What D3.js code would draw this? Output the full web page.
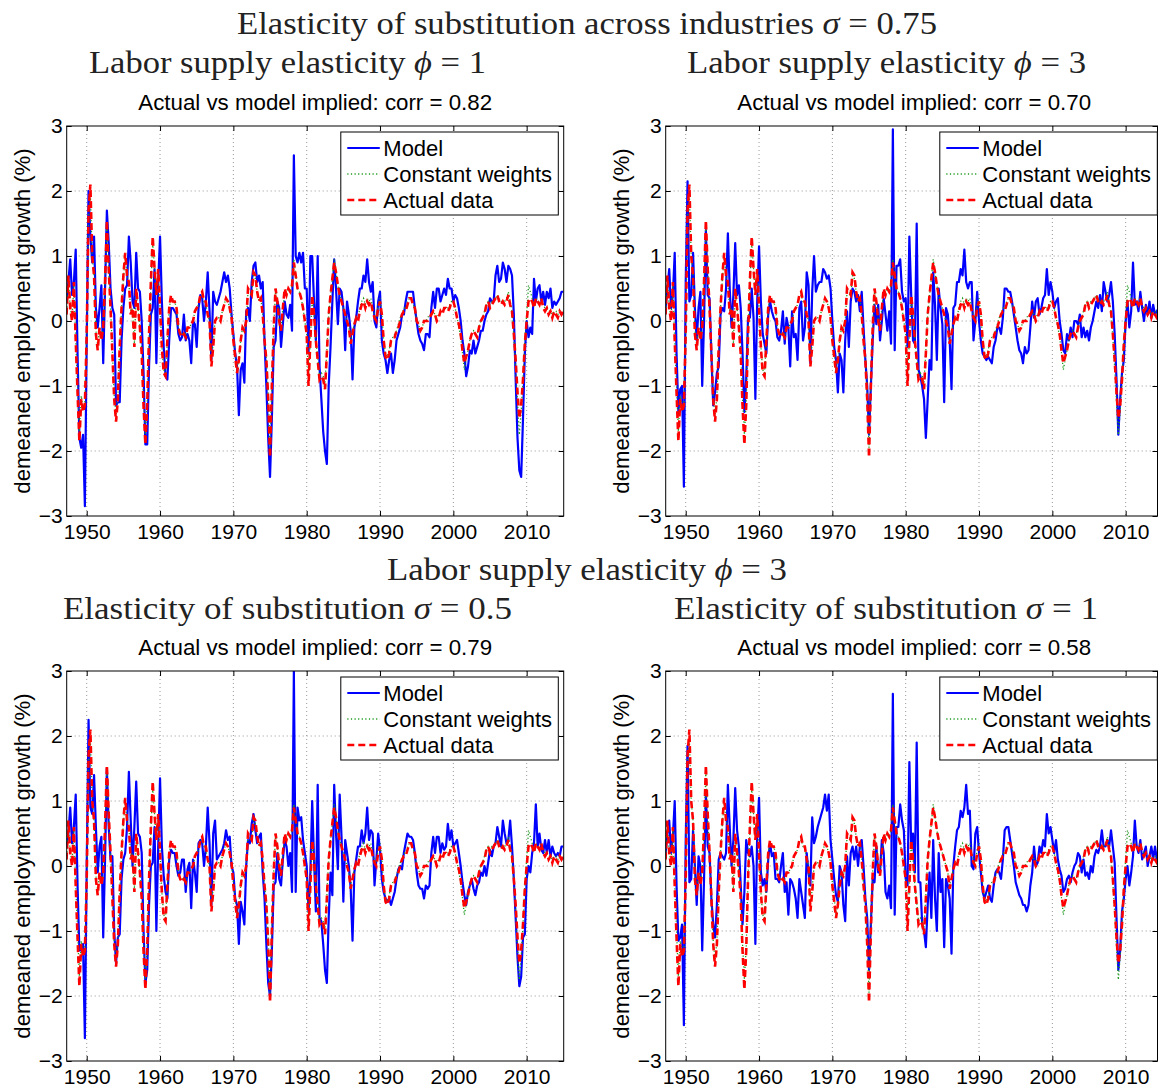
<!DOCTYPE html>
<html>

<head>
    <meta charset="utf-8">
    <script src="https://cdnjs.cloudflare.com/ajax/libs/d3/7.8.5/d3.min.js"></script>
    <style>
        body {
            margin: 0;
            background: #fff;
        }

        .grid line {
            stroke: #8c8c8c;
            stroke-width: 0.9;
            stroke-dasharray: 1 3;
        }

        .model {
            fill: none;
            stroke: #0000ff;
            stroke-width: 2.2;
            stroke-linejoin: round;
        }

        .cw {
            fill: none;
            stroke: #1e9a1e;
            stroke-width: 1.3;
            stroke-dasharray: 1.2 2.4;
        }

        .actual {
            fill: none;
            stroke: #ff0000;
            stroke-width: 2.6;
            stroke-dasharray: 7 4;
        }

        .axis text {
            font-family: "Liberation Sans", Arial, Helvetica, sans-serif;
            font-size: 21px;
            fill: #000;
        }

        .axis line {
            stroke: #000;
        }

        .sans {
            font-family: "Liberation Sans", Arial, Helvetica, sans-serif;
            fill: #000;
        }

        .serif {
            font-family: "Liberation Serif", "Times New Roman", serif;
            font-size: 32px;
            fill: #222;
        }
    </style>
</head>

<body>
    <svg id="chart" width="1158" height="1088"></svg>

    <script>
        // quarterly series, first point 1947Q2
        var firstQuarter = 1947.25;

        var xTicks = [1950, 1960, 1970, 1980, 1990, 2000, 2010];
        var yTicks = [-3, -2, -1, 0, 1, 2, 3];
        var seriesNames = ["Model", "Constant weights", "Actual data"];
        var corrValues = ["0.82", "0.70", "0.79", "0.58"];

        var actualData = [
            0.1, 0.7, 0.2,
            0.0, 0.6, -0.3, -1.1, -1.85, -1.2, -1.4, -1.3, // 48-49
            -0.2, 1.7, 2.1, 1.0, 0.7, -0.2, -0.45, -0.1, // 50-51
            -0.3, -0.1, 0.6, 1.55, 0.8, 0.2, -0.5, -1.2, // 52-53
            -1.55, -1.2, -0.4, 0.2, 0.7, 1.05, 0.7, 0.6, // 54-55
            0.1, 0.2, -0.4, 0.5, 0.2, -0.1, -0.5, -1.3, // 56-57
            -1.9, -1.3, -0.2, 0.6, 1.3, 0.8, 0.4, 0.8, // 58-59
            0.2, -0.4, -0.8, -0.85, -0.3, 0.2, 0.4, 0.3, // 60-61
            0.3, 0.2, -0.1, -0.2, -0.25, -0.2, -0.25, -0.1, // 62-63
            -0.1, -0.05, 0.0, 0.15, 0.2, 0.25, 0.4, 0.45, // 64-65
            0.3, 0.3, 0.1, 0.0, -0.7, -0.4, 0.0, 0.05, // 66-67
            0.05, 0.0, 0.15, 0.25, 0.35, 0.3, 0.2, 0.05, // 68-69
            -0.3, -0.55, -0.8, -0.6, -0.3, -0.1, -0.15, 0.0, // 70-71
            0.5, 0.45, 0.4, 0.75, 0.7, 0.45, 0.3, 0.35, // 72-73
            0.1, -0.3, -0.6, -1.2, -2.1, -1.0, -0.1, 0.5, // 74-75
            0.3, 0.0, -0.15, 0.2, 0.5, 0.4, 0.5, 0.45, // 76-77
            0.55, 0.9, 0.7, 0.5, 0.45, 0.35, 0.2, 0.0, // 78-79
            -0.2, -1.0, -0.3, 0.4, 0.1, -0.3, -0.6, -0.9, // 80-81
            -0.85, -0.9, -1.05, -0.5, 0.1, 0.4, 0.65, 0.9, // 82-83
            0.75, 0.55, 0.4, 0.3, 0.2, 0.1, 0.0, -0.1, // 84-85
            -0.35, -0.2, -0.05, 0.05, 0.0, 0.15, 0.25, 0.3, // 86-87
            0.2, 0.3, 0.25, 0.3, 0.15, 0.05, 0.0, 0.2, // 88-89
            0.3, 0.1, -0.3, -0.55, -0.6, -0.5, -0.3, -0.25, // 90-91
            -0.25, -0.15, -0.1, 0.0, 0.1, 0.15, 0.15, 0.25, // 92-93
            0.35, 0.35, 0.25, 0.2, 0.0, -0.05, -0.15, -0.1, // 94-95
            0.0, 0.0, 0.0, 0.05, 0.1, 0.15, 0.1, 0.0, // 96-97
            0.05, 0.15, 0.1, 0.2, 0.2, 0.15, 0.2, 0.3, // 98-99
            0.3, 0.2, 0.05, -0.05, -0.2, -0.45, -0.65, -0.55, // 00-01
            -0.45, -0.3, -0.2, -0.15, -0.2, -0.25, -0.1, 0.0, // 02-03
            0.05, 0.1, 0.25, 0.3, 0.2, 0.25, 0.3, 0.35, // 04-05
            0.4, 0.3, 0.25, 0.3, 0.25, 0.3, 0.4, 0.25, // 06-07
            0.15, -0.2, -0.6, -1.1, -1.5, -1.3, -0.9, -0.35, // 08-09
            0.0, 0.3, 0.35, 0.3, 0.2, 0.35, 0.3, 0.25, // 10-11
            0.35, 0.2, 0.15, 0.2, 0.1, 0.15, 0.05, 0.15, // 12-13
            0.1, 0.05, 0.15, 0.1,
            0.15
        ];

        var constantWeights = [
            0.1, 0.65, 0.2,
            0.05, 0.55, -0.3, -1.0, -1.7, -1.15, -1.35, -1.25, // 48-49
            -0.15, 1.6, 1.95, 1.0, 0.7, -0.15, -0.4, -0.1, // 50-51
            -0.25, -0.1, 0.6, 1.45, 0.75, 0.2, -0.45, -1.15, // 52-53
            -1.45, -1.15, -0.4, 0.2, 0.65, 1.0, 0.7, 0.6, // 54-55
            0.15, 0.2, -0.35, 0.45, 0.2, -0.1, -0.45, -1.2, // 56-57
            -1.75, -1.25, -0.2, 0.55, 1.2, 0.8, 0.4, 0.75, // 58-59
            0.2, -0.4, -0.75, -0.8, -0.3, 0.2, 0.35, 0.3, // 60-61
            0.3, 0.2, -0.1, -0.2, -0.2, -0.2, -0.2, -0.1, // 62-63
            -0.1, -0.05, 0.0, 0.15, 0.2, 0.25, 0.35, 0.4, // 64-65
            0.3, 0.25, 0.1, 0.0, -0.6, -0.35, 0.0, 0.05, // 66-67
            0.05, 0.05, 0.15, 0.25, 0.35, 0.3, 0.2, 0.05, // 68-69
            -0.25, -0.5, -0.75, -0.6, -0.3, -0.1, -0.15, 0.0, // 70-71
            0.45, 0.45, 0.4, 0.7, 0.65, 0.45, 0.3, 0.35, // 72-73
            0.1, -0.3, -0.55, -1.1, -1.95, -0.95, -0.1, 0.45, // 74-75
            0.3, 0.0, -0.1, 0.2, 0.45, 0.4, 0.5, 0.45, // 76-77
            0.55, 0.95, 0.7, 0.5, 0.45, 0.35, 0.2, 0.0, // 78-79
            -0.2, -0.9, -0.3, 0.35, 0.1, -0.3, -0.55, -0.85, // 80-81
            -0.8, -0.85, -0.95, -0.45, 0.1, 0.4, 0.65, 0.95, // 82-83
            0.75, 0.55, 0.4, 0.3, 0.2, 0.1, 0.0, -0.1, // 84-85
            -0.3, -0.15, -0.05, 0.05, 0.05, 0.2, 0.3, 0.35, // 86-87
            0.25, 0.35, 0.3, 0.35, 0.2, 0.1, 0.05, 0.25, // 88-89
            0.35, 0.1, -0.3, -0.5, -0.55, -0.45, -0.3, -0.25, // 90-91
            -0.2, -0.15, -0.05, 0.05, 0.1, 0.2, 0.2, 0.3, // 92-93
            0.35, 0.35, 0.25, 0.2, 0.0, -0.05, -0.15, -0.1, // 94-95
            0.0, 0.0, 0.05, 0.1, 0.1, 0.15, 0.1, 0.05, // 96-97
            0.1, 0.15, 0.15, 0.2, 0.2, 0.2, 0.25, 0.3, // 98-99
            0.3, 0.2, 0.05, -0.1, -0.25, -0.5, -0.75, -0.6, // 00-01
            -0.45, -0.3, -0.2, -0.15, -0.2, -0.2, -0.1, 0.0, // 02-03
            0.05, 0.15, 0.25, 0.3, 0.25, 0.3, 0.3, 0.35, // 04-05
            0.4, 0.35, 0.3, 0.3, 0.3, 0.35, 0.45, 0.3, // 06-07
            0.15, -0.25, -0.7, -1.25, -1.75, -1.4, -0.9, -0.3, // 08-09
            0.1, 0.55, 0.45, 0.35, 0.25, 0.35, 0.3, 0.3, // 10-11
            0.35, 0.25, 0.2, 0.2, 0.15, 0.15, 0.1, 0.15, // 12-13
            0.15, 0.1, 0.15, 0.15,
            0.15
        ];

        // sigma = 0.75, phi = 1
        var modelSigma075Phi1 = [
            0.3, 0.6, 0.95,
            0.4, 0.6, 1.1, -0.5, -1.8, -1.95, -1.75, -2.85, // 48-49
            -0.3, 2.0, 1.3, 0.9, 1.3, 0.2, -0.1, 0.2, // 50-51
            0.55, -0.65, 0.5, 1.7, 1.2, 0.5, 0.2, 0.1, // 52-53
            -1.3, -1.25, -1.25, -0.3, 0.2, 0.5, 0.55, 1.3, // 54-55
            0.9, 0.3, 0.2, 1.05, 0.5, 0.45, 0.0, -0.8, // 56-57
            -1.9, -1.9, -0.7, 0.1, 0.2, 0.8, -0.65, 0.6, // 58-59
            1.3, 0.3, -0.4, -0.85, -0.9, -0.3, 0.2, 0.2, // 60-61
            0.15, 0.1, -0.2, -0.3, -0.25, 0.1, -0.3, -0.2, // 62-63
            -0.3, -0.65, 0.0, -0.05, -0.4, 0.2, 0.4, 0.35, // 64-65
            0.0, 0.3, 0.75, 0.15, -0.6, 0.45, 0.3, 0.25, // 66-67
            0.35, 0.45, 0.6, 0.75, 0.6, 0.7, 0.5, 0.1, // 68-69
            -0.2, -0.5, -0.7, -1.45, -0.75, -0.65, -0.95, 0.15, // 70-71
            0.2, 0.0, 0.6, 0.85, 0.9, 0.6, 0.7, 0.5, // 72-73
            0.6, -0.3, -1.0, -1.8, -2.4, -1.5, -0.4, -0.3, // 74-75
            0.3, 0.2, -0.4, -0.05, 0.3, 0.1, 0.05, 0.25, // 76-77
            -0.15, 2.55, 1.0, 0.9, 1.05, 0.9, 1.05, 0.5, // 78-79
            0.5, -0.5, 1.0, 1.0, 0.3, -0.3, 1.0, -0.7, // 80-81
            -1.2, -1.7, -2.0, -2.2, -1.0, -0.4, 0.3, 0.95, // 82-83
            0.5, -0.05, 0.5, 0.45, 0.2, -0.45, 0.3, 0.1, // 84-85
            -0.15, -0.9, -0.1, 0.05, 0.3, 0.5, 0.5, 0.7, // 86-87
            0.6, 0.95, 0.6, 0.45, 0.6, 0.0, -0.1, 0.3, // 88-89
            0.45, -0.3, -0.5, -0.6, -0.8, -0.6, -0.5, -0.8, // 90-91
            -0.6, -0.3, -0.2, -0.1, 0.1, 0.1, 0.3, 0.45, // 92-93
            0.45, 0.45, 0.45, 0.2, 0.0, -0.2, -0.3, -0.35, // 94-95
            -0.45, -0.2, -0.2, -0.25, 0.2, 0.45, 0.2, 0.5, // 96-97
            0.5, 0.3, 0.4, 0.5, 0.4, 0.65, 0.5, 0.5, // 98-99
            0.3, 0.4, 0.35, 0.2, 0.0, -0.3, -0.5, -0.85, // 00-01
            -0.7, -0.45, -0.5, -0.3, -0.5, -0.4, -0.3, -0.15, // 02-03
            -0.15, 0.0, 0.1, 0.15, 0.35, 0.3, 0.3, 0.7, // 04-05
            0.85, 0.6, 0.65, 0.9, 0.8, 0.6, 0.85, 0.8, // 06-07
            0.7, 0.1, -0.9, -1.8, -2.3, -2.4, -1.5, -0.5, // 08-09
            0.0, -0.25, -0.1, -0.2, 0.65, 0.3, 0.5, 0.55, // 10-11
            0.3, 0.45, 0.25, 0.45, 0.35, 0.5, 0.2, 0.3, // 12-13
            0.25, 0.3, 0.35, 0.45,
            0.45
        ];

        // sigma = 0.75, phi = 3
        var modelSigma075Phi3 = [
            0.2, 0.5, 0.8,
            0.2, 0.4, 1.05, -0.5, -1.4, -1.05, -1.0, -2.55, // 48-49
            0.6, 2.15, 0.3, 0.4, 1.05, 0.2, -0.3, 0.2, // 50-51
            0.45, -1.0, 0.0, 1.4, 0.4, 0.35, -0.5, -1.3, // 52-53
            -1.1, -0.8, -0.7, 0.1, 0.2, 0.15, 0.5, 1.35, // 54-55
            0.5, -0.1, 0.4, 1.2, 0.4, 0.55, 0.2, -0.5, // 56-57
            -1.4, -0.9, 0.05, 0.05, 0.5, 0.05, -1.2, 0.3, // 58-59
            1.15, 0.3, -0.2, -0.35, -0.5, 0.1, 0.3, 0.15, // 60-61
            0.05, 0.0, -0.25, -0.3, -0.15, 0.15, -0.35, 0.05, // 62-63
            -0.1, -0.7, 0.15, -0.25, -0.2, -0.6, 0.2, 0.3, // 64-65
            -0.3, -0.1, 0.75, 0.55, -0.65, 0.45, 1.0, 0.45, // 66-67
            0.55, 0.6, 0.6, 0.8, 0.75, 0.65, 0.7, 0.5, // 68-69
            0.0, -0.4, -0.6, -1.1, -0.5, -0.6, -1.1, -0.3, // 70-71
            0.15, -0.4, 0.3, 0.5, 0.45, 0.3, 0.4, 0.15, // 72-73
            0.45, -0.1, -0.6, -1.0, -1.75, -1.0, -0.3, 0.25, // 74-75
            -0.05, 0.25, -0.3, 0.0, 0.35, 0.1, -0.15, 0.15, // 76-77
            -0.35, 2.95, -0.45, 0.85, 0.85, 0.95, 0.45, 0.3, // 78-79
            0.35, -0.4, 1.3, 0.4, -0.3, -0.35, 1.5, -0.75, // 80-81
            -0.85, -1.0, -1.2, -1.8, -1.2, -0.6, -0.75, 0.75, // 82-83
            0.25, -0.6, 0.5, 0.2, -0.05, -1.25, 0.2, 0.1, // 84-85
            -0.3, -1.05, 0.2, 0.25, 0.6, 0.6, 0.8, 0.7, // 86-87
            1.1, 0.6, 0.5, 0.6, 0.6, -0.3, 0.0, 0.45, // 88-89
            0.0, -0.3, -0.5, -0.55, -0.6, -0.55, -0.6, -0.65, // 90-91
            -0.4, -0.3, -0.1, -0.1, -0.2, 0.05, 0.5, 0.5, // 92-93
            0.45, 0.45, 0.3, 0.1, -0.1, -0.3, -0.45, -0.5, // 94-95
            -0.65, -0.4, -0.5, -0.45, -0.1, 0.3, 0.05, 0.3, // 96-97
            0.35, 0.1, 0.2, 0.35, 0.4, 0.8, 0.4, 0.6, // 98-99
            0.45, 0.2, 0.3, 0.35, 0.0, -0.2, -0.45, -0.5, // 00-01
            -0.2, -0.3, -0.1, -0.25, 0.0, 0.0, -0.05, 0.1, // 02-03
            -0.25, -0.1, -0.25, -0.15, -0.3, -0.1, 0.0, 0.15, // 04-05
            0.3, 0.2, 0.4, 0.15, 0.6, 0.45, 0.3, 0.4, // 06-07
            0.6, 0.3, -0.2, -0.9, -1.75, -1.2, -0.8, -0.6, // 08-09
            0.0, 0.3, -0.1, 0.15, 0.9, 0.25, 0.3, 0.15, // 10-11
            0.45, 0.2, 0.0, 0.25, 0.1, 0.3, 0.05, 0.25, // 12-13
            0.1, 0.15, 0.2, 0.1,
            0.15
        ];

        // sigma = 0.5, phi = 3
        var modelSigma05Phi3 = [
            0.3, 0.5, 0.9,
            0.35, 0.6, 1.1, -0.3, -1.3, -1.3, -1.2, -2.65, // 48-49
            0.0, 2.25, 0.9, 0.8, 1.4, 0.6, -0.1, 0.3, // 50-51
            0.45, -1.1, 0.1, 1.5, 0.6, 0.1, 0.15, -1.0, // 52-53
            -1.5, -1.1, -1.05, -0.2, 0.1, 0.2, 0.6, 1.45, // 54-55
            0.7, 0.0, 0.6, 1.3, 0.5, 0.45, 0.2, -1.0, // 56-57
            -1.8, -1.6, -0.6, 0.0, 0.05, 0.6, -1.0, 0.3, // 58-59
            1.35, 0.3, -0.15, -0.4, -0.5, 0.1, 0.25, 0.2, // 60-61
            0.2, 0.0, -0.15, -0.1, 0.1, 0.1, -0.4, -0.05, // 62-63
            0.05, -0.65, 0.1, -0.1, -0.4, 0.35, 0.4, 0.35, // 64-65
            0.0, 0.3, 0.9, 0.35, -0.6, 0.5, 0.7, 0.1, // 66-67
            0.15, 0.2, 0.25, 0.35, 0.55, 0.4, 0.45, 0.0, // 68-69
            -0.1, -0.5, -0.6, -1.2, -0.55, -0.7, -0.9, 0.0, // 70-71
            0.4, 0.35, 0.65, 0.8, 0.55, 0.35, 0.45, 0.5, // 72-73
            -0.1, -0.5, -1.2, -1.8, -2.0, -1.3, -0.3, -0.25, // 74-75
            0.2, -0.2, -0.3, 0.1, 0.4, 0.3, 0.0, 0.2, // 76-77
            -0.4, 3.0, -0.4, 0.9, 0.7, 0.75, 0.4, 0.2, // 78-79
            0.0, -0.7, -0.1, 1.0, 0.1, -0.7, 1.25, -0.8, // 80-81
            -0.85, -1.2, -1.6, -1.8, -0.8, -0.1, -0.45, 1.25, // 82-83
            0.5, -0.05, 1.1, 0.45, -0.55, 0.4, 0.2, 0.0, // 84-85
            -0.35, -1.15, -0.1, 0.1, 0.3, 0.3, 0.55, 0.35, // 86-87
            0.5, 0.9, 0.4, 0.55, 0.5, -0.3, 0.1, 0.5, // 88-89
            0.25, -0.2, -0.4, -0.5, -0.55, -0.5, -0.6, -0.5, // 90-91
            -0.4, -0.2, -0.05, 0.0, -0.05, 0.2, 0.35, 0.5, // 92-93
            0.45, 0.45, 0.4, 0.2, -0.1, -0.3, -0.35, -0.35, // 94-95
            -0.5, -0.3, -0.35, -0.3, 0.2, 0.45, 0.2, 0.45, // 96-97
            0.45, 0.2, 0.35, 0.25, 0.3, 0.65, 0.4, 0.55, // 98-99
            0.3, 0.35, 0.4, 0.2, 0.0, -0.25, -0.45, -0.6, // 00-01
            -0.4, -0.3, -0.2, -0.35, -0.45, -0.3, -0.25, -0.1, // 02-03
            -0.15, 0.0, -0.15, 0.05, 0.25, 0.15, 0.3, 0.35, // 04-05
            0.6, 0.45, 0.3, 0.7, 0.5, 0.35, 0.4, 0.7, // 06-07
            0.3, -0.2, -0.8, -1.4, -1.85, -1.7, -1.1, -1.05, // 08-09
            -0.2, 0.0, -0.1, 0.2, 0.35, 0.95, 0.3, 0.5, // 10-11
            0.25, 0.2, 0.4, 0.2, 0.4, 0.15, 0.3, 0.2, // 12-13
            0.15, 0.2, 0.15, 0.3,
            0.3
        ];

        // sigma = 1, phi = 3
        var modelSigma1Phi3 = [
            0.2, 0.5, 0.7,
            0.2, 0.45, 1.0, -0.3, -1.15, -1.1, -0.9, -2.45, // 48-49
            0.4, 1.85, -0.25, -0.2, 0.55, 0.0, -0.6, 0.15, // 50-51
            0.0, -1.3, -0.2, 1.1, 0.3, 0.2, -0.5, -0.9, // 52-53
            -1.1, -0.6, 0.1, 0.2, 0.15, 0.1, 0.2, 1.25, // 54-55
            0.6, 0.0, 0.4, 1.2, 0.55, 0.3, -0.3, -0.9, // 56-57
            -0.4, 0.4, 0.2, 0.15, 0.3, 0.0, -1.2, 0.5, // 58-59
            1.05, -0.1, -0.3, -0.2, -0.4, 0.1, 0.35, 0.15, // 60-61
            0.2, -0.2, -0.2, -0.25, 0.0, 0.2, -0.4, -0.25, // 62-63
            -0.75, -0.2, -0.25, -0.35, -0.5, -0.8, -0.2, -0.4, // 64-65
            -0.6, -0.8, 0.2, -0.1, -0.3, 0.75, 0.35, 0.45, // 66-67
            0.6, 0.7, 0.8, 0.9, 1.1, 0.85, 1.1, 0.4, // 68-69
            0.1, -0.2, -0.45, -0.55, 0.0, -0.1, -0.6, -0.85, // 70-71
            0.15, -0.3, 0.2, 0.3, 0.1, 0.3, 0.0, 0.3, // 72-73
            0.4, 0.0, -0.5, -0.8, -1.6, -0.9, -0.2, -0.25, // 74-75
            0.3, -0.1, -0.1, 0.4, 0.2, -0.4, -0.5, -0.3, // 76-77
            -0.65, 2.65, -0.75, 0.6, 0.6, 0.95, 0.7, 0.55, // 78-79
            -0.2, -0.3, 1.6, 0.3, 0.5, -0.1, 1.9, -0.25, // 80-81
            -0.25, -0.9, -1.0, -1.25, -0.6, -0.1, -0.8, 0.4, // 82-83
            -0.5, -1.0, 0.2, -0.4, -0.2, -1.25, -0.2, -0.3, // 84-85
            -0.5, -1.35, 0.0, 0.3, 0.55, 0.6, 0.85, 0.75, // 86-87
            0.9, 1.25, 0.8, 0.85, 0.0, -0.05, 0.5, 0.6, // 88-89
            0.2, -0.1, -0.4, -0.5, -0.4, -0.3, -0.5, -0.55, // 90-91
            -0.3, -0.1, -0.05, -0.1, -0.2, 0.1, 0.55, 0.6, // 92-93
            0.6, 0.4, 0.2, 0.0, -0.25, -0.35, -0.45, -0.5, // 94-95
            -0.6, -0.6, -0.7, -0.6, -0.3, -0.1, 0.3, 0.0, // 96-97
            0.05, 0.3, 0.2, 0.4, 0.3, 0.8, 0.5, 0.6, // 98-99
            0.4, 0.2, 0.4, 0.1, -0.05, -0.15, -0.4, -0.35, // 00-01
            -0.2, -0.15, -0.25, -0.1, 0.0, 0.05, 0.2, 0.15, // 02-03
            -0.1, 0.1, -0.15, -0.1, -0.2, 0.0, -0.1, 0.15, // 04-05
            0.25, 0.2, 0.3, 0.55, 0.3, 0.3, 0.4, 0.3, // 06-07
            0.55, 0.3, 0.05, -0.8, -1.6, -1.3, -0.7, -0.5, // 08-09
            -0.2, 0.0, -0.3, -0.1, 0.15, 0.7, 0.3, 0.2, // 10-11
            0.4, 0.1, 0.2, 0.3, 0.0, 0.15, 0.3, 0.1, // 12-13
            0.3, 0.1, 0.1, 0.15,
            0.15
        ];

        var svgWidth = 1158,
            plotW = 497,
            plotH = 390;

        var svg = d3.select("#chart");

        var x = d3.scaleLinear().domain([1947.27, 2015.05]).range([0, plotW]);
        var y = d3.scaleLinear().domain([-3, 3]).range([plotH, 0]);

        var line = d3.line()
            .x(function(d, i) {
                return x(firstQuarter + i / 4);
            })
            .y(function(d) {
                return y(d);
            });

        var panels = [
            { left: 66.7, top: 126, model: modelSigma075Phi1, corr: corrValues[0] },
            { left: 665.7, top: 126, model: modelSigma075Phi3, corr: corrValues[1] },
            { left: 66.7, top: 671, model: modelSigma05Phi3, corr: corrValues[2] },
            { left: 665.7, top: 671, model: modelSigma1Phi3, corr: corrValues[3] }
        ];

        // LaTeX-like headings
        function heading(cx, baseline, width, before, greek, after) {
            var t = svg.append("text")
                .attr("class", "serif")
                .attr("x", cx)
                .attr("y", baseline)
                .attr("text-anchor", "middle")
                .attr("textLength", width)
                .attr("lengthAdjust", "spacingAndGlyphs");
            t.append("tspan").text(before);
            t.append("tspan").style("font-style", "italic").text(greek);
            t.append("tspan").text(after);
        }

        heading(587, 34, 700, "Elasticity of substitution across industries ", "\u03c3", " = 0.75");
        heading(287.5, 73, 397, "Labor supply elasticity ", "\u03d5", " = 1");
        heading(886.5, 73, 399, "Labor supply elasticity ", "\u03d5", " = 3");
        heading(587, 580, 400, "Labor supply elasticity ", "\u03d5", " = 3");
        heading(287.5, 619, 449, "Elasticity of substitution ", "\u03c3", " = 0.5");
        heading(886, 619, 424, "Elasticity of substitution ", "\u03c3", " = 1");

        panels.forEach(function(p, k) {
            var visW = Math.min(plotW, svgWidth - 0.5 - p.left);

            var g = svg.append("g")
                .attr("transform", "translate(" + p.left + "," + p.top + ")");

            g.append("clipPath").attr("id", "clip" + k)
                .append("rect")
                .attr("width", visW)
                .attr("height", plotH);

            // dotted grid
            var grid = g.append("g").attr("class", "grid");
            grid.selectAll(".gx").data(xTicks).enter().append("line")
                .attr("x1", function(d) { return x(d); })
                .attr("x2", function(d) { return x(d); })
                .attr("y1", 0)
                .attr("y2", plotH);
            grid.selectAll(".gy").data(yTicks.slice(1, -1)).enter().append("line")
                .attr("x1", 0)
                .attr("x2", visW)
                .attr("y1", function(d) { return y(d); })
                .attr("y2", function(d) { return y(d); });

            var lines = g.append("g").attr("clip-path", "url(#clip" + k + ")");
            lines.append("path").datum(p.model).attr("class", "model").attr("d", line);
            lines.append("path").datum(constantWeights).attr("class", "cw").attr("d", line);
            lines.append("path").datum(actualData).attr("class", "actual").attr("d", line);

            g.append("rect")
                .attr("width", visW)
                .attr("height", plotH)
                .attr("fill", "none")
                .attr("stroke", "#000")
                .attr("stroke-width", 1);

            // inward ticks on all four sides
            var bottom = g.append("g").attr("class", "axis")
                .attr("transform", "translate(0," + plotH + ")")
                .call(d3.axisBottom(x).tickValues(xTicks).tickFormat(d3.format("d")).tickSize(-5).tickPadding(8));
            var left = g.append("g").attr("class", "axis")
                .call(d3.axisLeft(y).tickValues(yTicks).tickFormat(d3.format("d")).tickSize(-5).tickPadding(4));
            var top = g.append("g").attr("class", "axis")
                .call(d3.axisTop(x).tickValues(xTicks).tickSize(-5).tickFormat(""));
            var right = g.append("g").attr("class", "axis")
                .attr("transform", "translate(" + visW + ",0)")
                .call(d3.axisRight(y).tickValues(yTicks).tickSize(-5).tickFormat(""));
            [bottom, left, top, right].forEach(function(a) {
                a.select(".domain").remove();
            });

            g.append("text")
                .attr("class", "sans")
                .attr("x", plotW / 2)
                .attr("y", -16)
                .attr("text-anchor", "middle")
                .style("font-size", "22.3px")
                .text("Actual vs model implied: corr = " + p.corr);

            g.append("text")
                .attr("class", "sans")
                .attr("transform", "translate(-37," + plotH / 2 + ") rotate(-90)")
                .attr("text-anchor", "middle")
                .style("font-size", "22.2px")
                .text("demeaned employment growth (%)");

            // legend
            var lx = plotW - 5.4 - 217.5,
                ly = 6;
            var legend = g.append("g").attr("transform", "translate(" + lx + "," + ly + ")");
            legend.append("rect")
                .attr("width", 217.5)
                .attr("height", 83)
                .attr("fill", "#fff")
                .attr("stroke", "#000")
                .attr("stroke-width", 1);
            var classes = ["model", "cw", "actual"];
            seriesNames.forEach(function(name, i) {
                var cy = 16 + i * 26;
                legend.append("line")
                    .attr("class", classes[i])
                    .attr("x1", 6.5)
                    .attr("x2", 39)
                    .attr("y1", cy)
                    .attr("y2", cy);
                legend.append("text")
                    .attr("class", "sans")
                    .attr("x", 42.5)
                    .attr("y", cy)
                    .attr("dy", "0.36em")
                    .style("font-size", "22px")
                    .text(name);
            });
        });
    </script>

</body>

</html>
